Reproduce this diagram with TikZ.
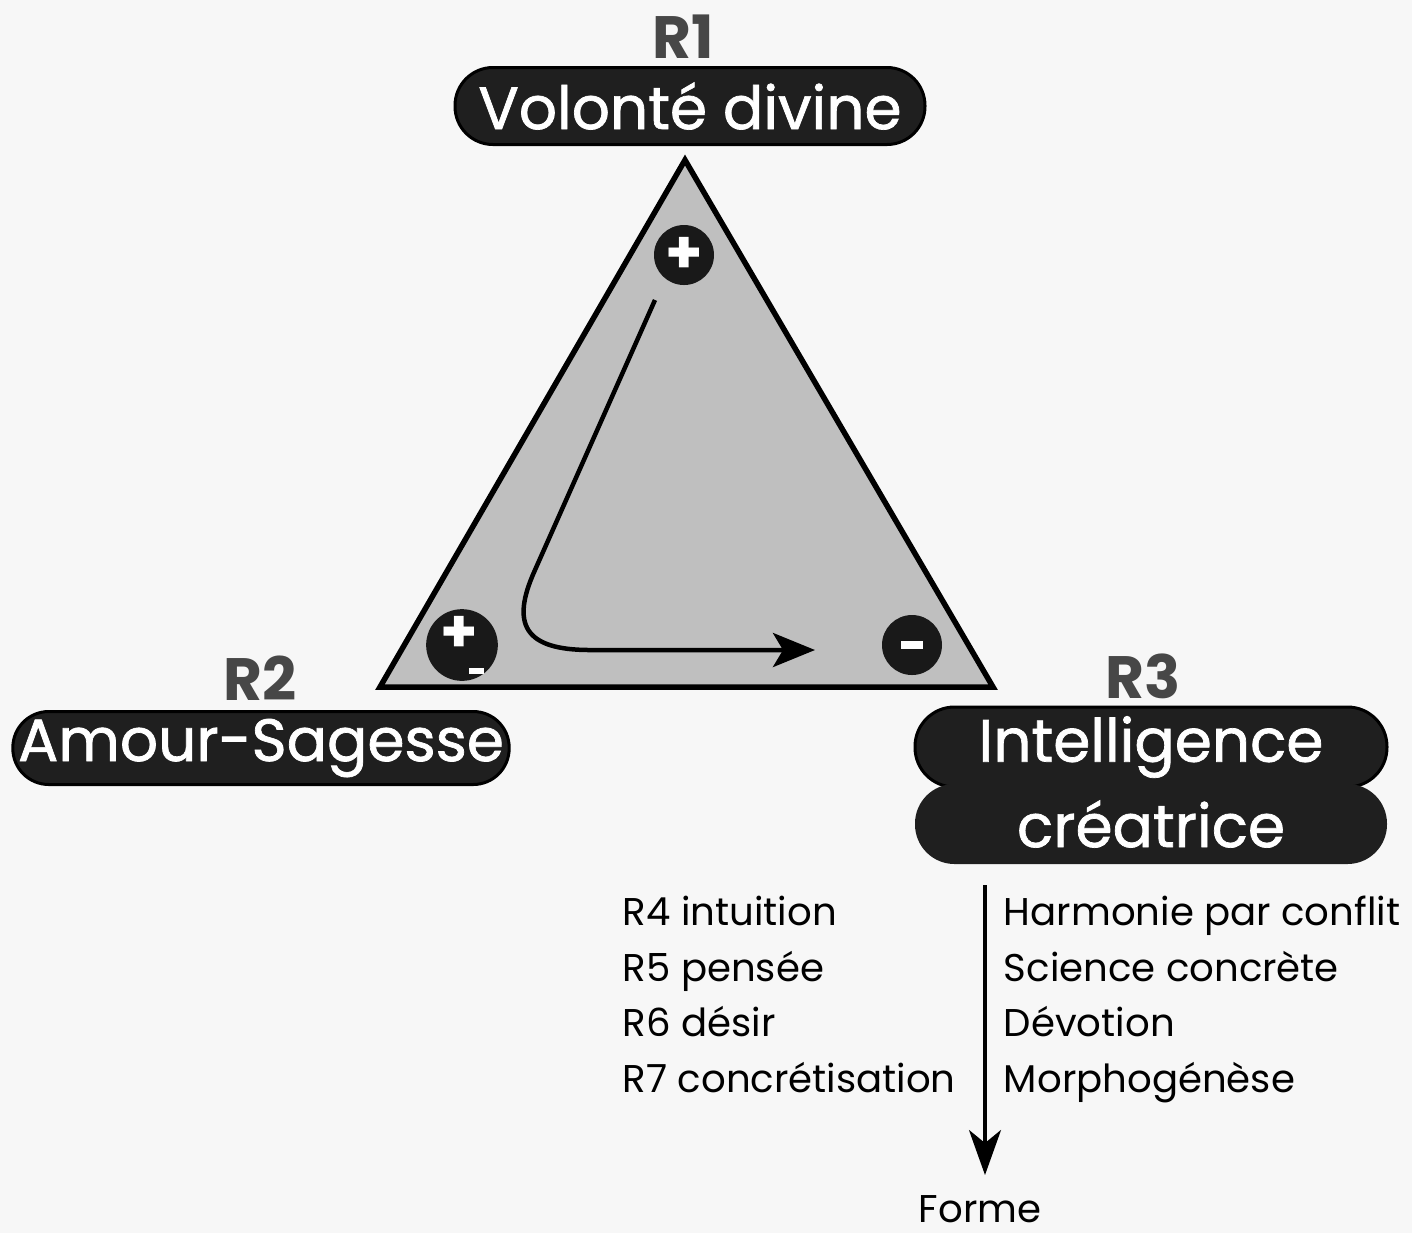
\documentclass[tikz,border=0pt]{standalone}
\usepackage{fontspec}
\setmainfont{Poppins}
\usepackage{tikz}
\usetikzlibrary{arrows.meta,positioning}

\begin{document}
\begin{tikzpicture}[x=0.1mm, y=-0.1mm, every node/.style={inner sep=1.5pt},
  pill/.style={fill=black!88, draw=black, line width=0.3mm, rounded corners=3.8mm,
    minimum height=7.7mm, text=white, font=\fontsize{17}{18}\selectfont\addfontfeature{FakeBold=1.2}},
  ray/.style={text=black!72, font=\bfseries\fontsize{17}{18}\selectfont},
  sign/.style={circle, fill=black!90, minimum size=6mm, inner sep=0pt, text=white,
    font=\bfseries\fontsize{17}{17}\selectfont},
  item/.style={anchor=base west, font=\fontsize{11}{12}\selectfont}]
  \useasboundingbox[fill=black!3] (0,0) rectangle (1412,1233);
  \coordinate (top) at (685,160);
  \coordinate (bL) at (380,687);
  \coordinate (bR) at (993,687);
  \draw[line width=0.55mm, fill=black!25] (top) -- (bL) -- (bR) -- cycle;
  \node[sign] (pPlus) at (684,255) {+};
  \node[sign] (pBoth) at (462,645) {\raisebox{0.4mm}{+}\hspace{-0.9mm}\raisebox{-1.7mm}{\rule{1.5mm}{0.6mm}}};
  \node[sign] (pMinus) at (912,645) {\rule{2.2mm}{0.75mm}};
  \coordinate (flowA) at (655,300);
  \coordinate (flowB) at (815,650);
  \draw[line width=0.45mm, -{Stealth[length=4.2mm,width=3.4mm,inset=1mm]}]
    (flowA) -- (535,570) .. controls (510,625) and (525,650) .. (590,650) -- (flowB);
  \node[ray] (r1) at (683,37) {R1};
  \node[pill, minimum width=47mm] (will) at (690,106) {Volonté divine};
  \node[ray] (r2) at (260,678) {R2};
  \node[pill, minimum width=49.2mm, minimum height=7.3mm, rounded corners=3.6mm] (love) at (261,748) {Amour-Sagesse};
  \node[ray] (r3) at (1143,676) {R3};
  \node[pill, minimum width=47.2mm, minimum height=8mm, rounded corners=3.95mm] (intel) at (1151,747) {Intelligence};
  \node[pill, minimum width=47.2mm, minimum height=8mm, rounded corners=3.95mm, draw=none] (creat) at (1151,824) {créatrice};
  \node[item] (iL1) at (617,925) {R4 intuition};
  \node[item] (iL2) at (617,981) {R5 pensée};
  \node[item] (iL3) at (617,1036) {R6 désir};
  \node[item] (iL4) at (617,1092) {R7 concrétisation};
  \node[item] (iR1) at (998,925) {Harmonie par conflit};
  \node[item] (iR2) at (998,981) {Science concrète};
  \node[item] (iR3) at (998,1036) {Dévotion};
  \node[item] (iR4) at (998,1092) {Morphogénèse};
  \node[font=\fontsize{11}{12}\selectfont] (forme) at (980,1209) {Forme};
  \coordinate (axisA) at (985,885);
  \coordinate (axisB) at (985,1175);
  \draw[line width=0.35mm, -{Stealth[length=4.5mm,width=3.2mm,inset=1.3mm]}] (axisA) -- (axisB);
\end{tikzpicture}
\end{document}
